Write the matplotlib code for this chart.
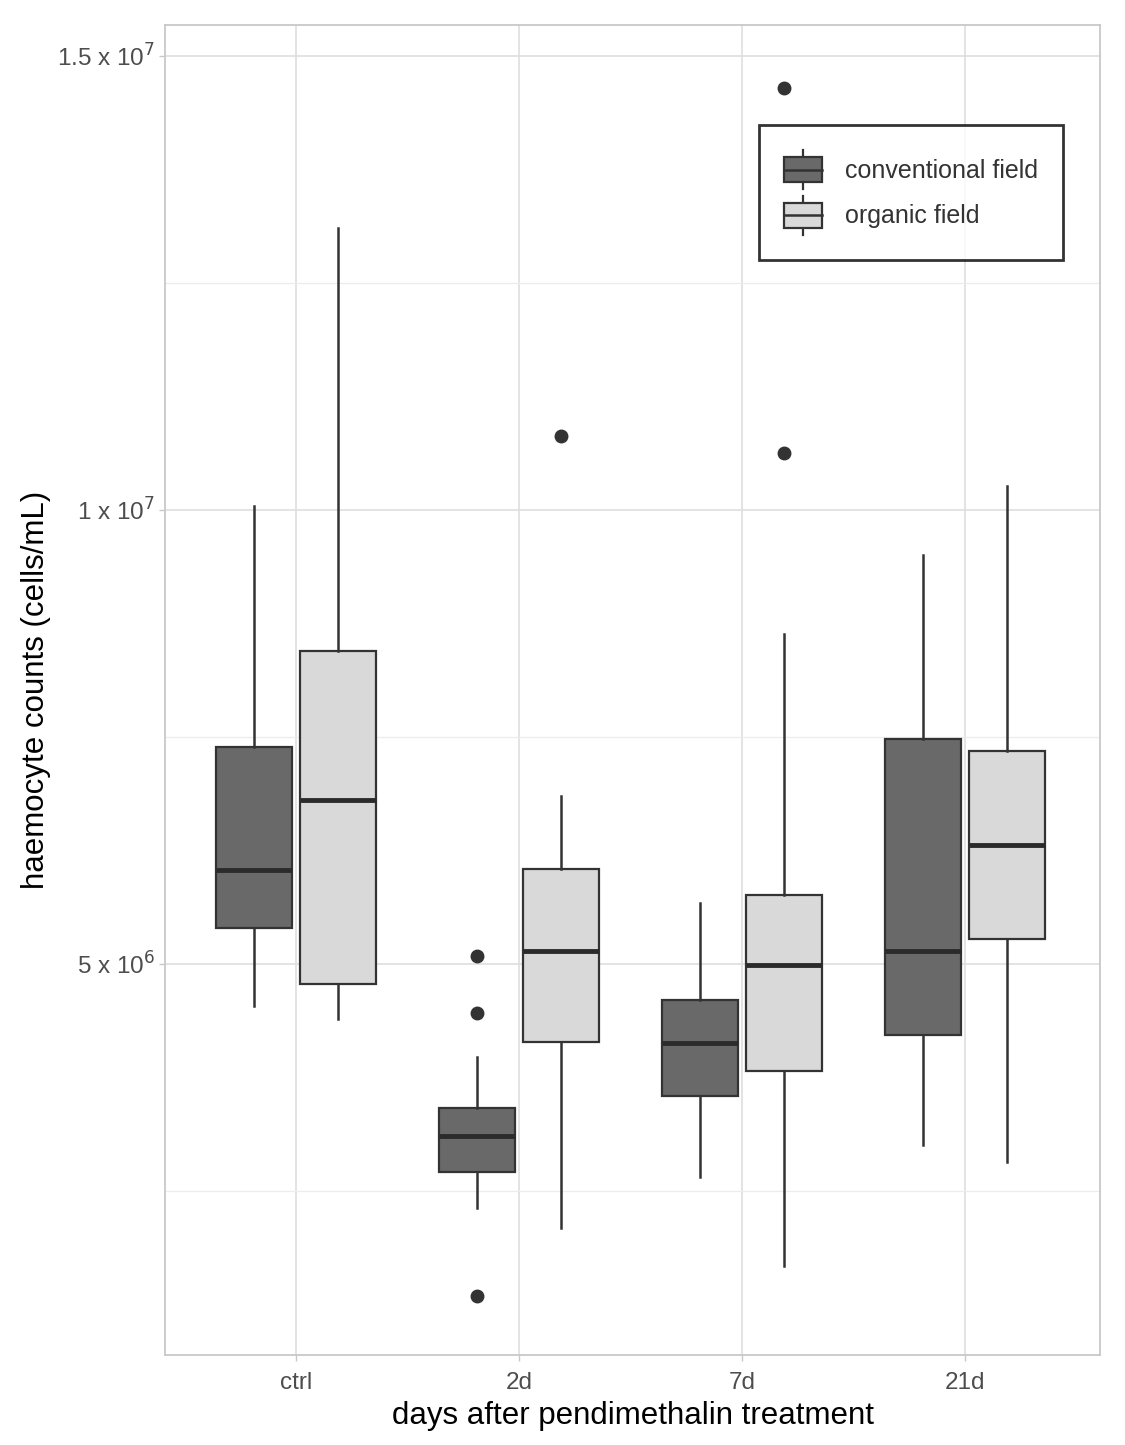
import matplotlib
matplotlib.use("Agg")
import matplotlib.pyplot as plt
from matplotlib.legend_handler import HandlerBase
from matplotlib.patches import Rectangle, Patch
from matplotlib.lines import Line2D

plt.rcParams['font.family'] = ['Liberation Sans', 'DejaVu Sans']

# data (cells/mL)
days = ['ctrl', '2d', '7d', '21d']
groups = ['conventional field', 'organic field']

conv_whislo = [4.54e6, 2.31e6, 2.65e6, 3.01e6]
conv_q1 = [5.40e6, 2.71e6, 3.55e6, 4.22e6]
conv_med = [6.04e6, 3.10e6, 4.13e6, 5.14e6]
conv_q3 = [7.39e6, 3.41e6, 4.60e6, 7.48e6]
conv_whishi = [1.004e7, 3.98e6, 5.67e6, 9.50e6]
conv_fliers = [[], [5.09e6, 4.46e6, 1.34e6], [], []]

org_whislo = [4.39e6, 2.09e6, 1.67e6, 2.82e6]
org_q1 = [4.78e6, 4.14e6, 3.82e6, 5.28e6]
org_med = [6.81e6, 5.14e6, 4.99e6, 6.31e6]
org_q3 = [8.45e6, 6.05e6, 5.76e6, 7.35e6]
org_whishi = [1.311e7, 6.85e6, 8.63e6, 1.026e7]
org_fliers = [[], [1.0815e7], [1.4648e7, 1.0628e7], []]

colors = ['#696969', '#d9d9d9']
edge = '#333333'


def make_stats(lo, q1, med, q3, hi, fl):
    return [dict(whislo=a, q1=b, med=c, q3=d, whishi=e, fliers=f)
            for a, b, c, d, e, f in zip(lo, q1, med, q3, hi, fl)]


class BoxKey(HandlerBase):
    """legend key drawn like a ggplot boxplot glyph"""
    def create_artists(self, legend, orig_handle, xdescent, ydescent,
                       width, height, fontsize, trans):
        x0 = -xdescent
        y0 = -ydescent
        w = width
        cx = x0 + w / 2
        bh = height * 0.63
        by = y0 + (height - bh) / 2
        rect = Rectangle((x0, by), w, bh,
                         facecolor=orig_handle.get_facecolor(),
                         edgecolor=edge, lw=1.6, transform=trans)
        top = Line2D([cx, cx], [by + bh, y0 + height],
                     color=edge, lw=1.6, transform=trans)
        bot = Line2D([cx, cx], [y0, by],
                     color=edge, lw=1.6, transform=trans)
        med = Line2D([x0, x0 + w], [y0 + height / 2] * 2,
                     color=edge, lw=1.8, transform=trans)
        return [top, bot, rect, med]


fig = plt.figure(figsize=(11.25, 14.45), dpi=100)
ax = fig.add_axes([0.1467, 0.0623, 0.8311, 0.9204])

pos = list(range(1, len(days) + 1))
off = 0.188
bw = 0.338
series = [
    make_stats(conv_whislo, conv_q1, conv_med, conv_q3, conv_whishi, conv_fliers),
    make_stats(org_whislo, org_q1, org_med, org_q3, org_whishi, org_fliers),
]
for i, st in enumerate(series):
    p = [x + (i * 2 - 1) * off for x in pos]
    ax.bxp(st, positions=p, widths=bw, patch_artist=True, showcaps=False,
           boxprops=dict(facecolor=colors[i], edgecolor=edge, lw=1.6),
           whiskerprops=dict(color=edge, lw=1.8),
           medianprops=dict(color='#2b2b2b', lw=3.5),
           flierprops=dict(marker='o', markerfacecolor='#333333',
                           markeredgecolor='#333333', markersize=9),
           zorder=3)

ax.set_xlim(0.413, 4.605)
ax.set_ylim(0.694e6, 1.534e7)
ax.set_xticks(pos)
ax.set_xticklabels(days)
ax.set_yticks([5e6, 1e7, 1.5e7])
ax.set_yticklabels([r'5 x 10$^6$', r'1 x 10$^7$', r'1.5 x 10$^7$'])
ax.set_yticks([2.5e6, 7.5e6, 1.25e7], minor=True)
ax.grid(True, which='major', color='#dedede', lw=1.2, zorder=0)
ax.grid(True, which='minor', axis='y', color='#ececec', lw=0.9, zorder=0)
ax.set_axisbelow(True)
for s in ax.spines.values():
    s.set_color('#c8c8c8')
    s.set_linewidth(1.3)
ax.tick_params(axis='both', which='major', labelsize=17.5, colors='#4d4d4d',
               length=4, width=1, color='#c8c8c8')
ax.tick_params(axis='x', which='major', pad=8)
ax.tick_params(axis='y', which='minor', length=0)
ax.set_xlabel('days after pendimethalin treatment', fontsize=22.5, labelpad=5)
ax.set_ylabel('haemocyte counts (cells/mL)', fontsize=22.5, labelpad=4)

handles = [Patch(facecolor=c) for c in colors]
leg = ax.legend(handles, groups, handler_map={Patch: BoxKey()},
                loc='upper right', bbox_to_anchor=(0.9604, 0.9248),
                fontsize=18, frameon=True, fancybox=False, borderpad=1.0,
                labelspacing=0.25, handlelength=1.5, handleheight=2.04,
                handletextpad=0.92, borderaxespad=0)
leg.get_frame().set_edgecolor('black')
leg.get_frame().set_linewidth(2)
for t in leg.get_texts():
    t.set_color('#333333')

fig.savefig('out.png', dpi=100)
